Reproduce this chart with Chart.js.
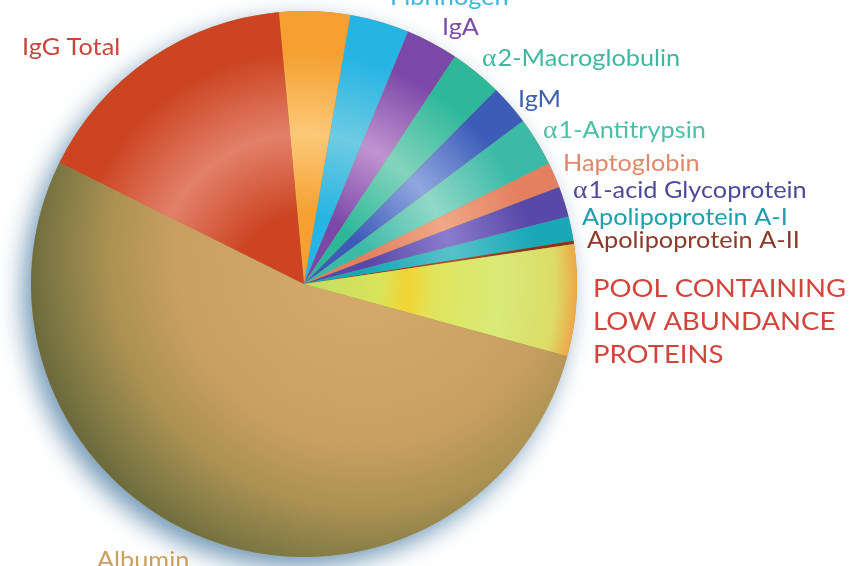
<!DOCTYPE html>
<html>
<head>
<meta charset="utf-8">
<script src="https://cdn.jsdelivr.net/npm/chart.js@4/dist/chart.umd.min.js"></script>
<style>
  html, body { margin: 0; padding: 0; background: #ffffff; }
  #wrap { width: 850px; height: 566px; position: relative; }
</style>
</head>
<body>
<div id="wrap"><canvas id="c" width="850" height="566"></canvas></div>
<script>
// ---- data (clockwise from top) ----
const categories = ['Transferrin', 'Fibrinogen', 'IgA', 'α2-Macroglobulin', 'IgM', 'α1-Antitrypsin',
  'Haptoglobin', 'α1-acid Glycoprotein', 'Apolipoprotein A-I', 'Apolipoprotein A-II',
  'POOL CONTAINING|LOW ABUNDANCE|PROTEINS', 'Albumin', 'IgG Total'];
const shares = [4.2, 3.5, 3.1, 3.1, 2.4, 2.9, 1.5, 1.8, 1.45, 0.2, 6.6, 53.1, 16.2];
const shownLabels = [false, true, true, true, true, true, true, true, true, true, true, true, true];

// ---- styles ----
const baseColors  = ['#f5a030', '#25b4e4', '#7a48a8', '#2eb89a', '#3c5cb8', '#3cbaa8',
  '#e48060', '#5848a8', '#1aa8b8', '#8a3418', '#cfe062', '#c9a062', '#cc4422'];
const lightColors = ['#fcc878', '#6ecbe2', '#c094d0', '#84d4bc', '#90a8e0', '#92d8c8',
  '#f0a888', '#8a7ccc', '#56c2ca', '#a85030', '#e4ea70', '#d4aa68', '#e2806a'];
const labelColors = ['#f0a040', '#3cb6da', '#7b4ea8', '#3fb8a0', '#3e60b2', '#4cbfa8',
  '#e0896a', '#4e4a9a', '#1f9fae', '#8b3a2a', '#d2453c', '#c9a060', '#c8453c'];
const labelLayout = [null, [390, 5], [442, 35], [482, 66], [518, 107], [543, 138],
  [563, 171], [573, 198], [582, 225], [587, 248], [593, 297], [97, 568], [22, 55]];
const labelSizes = [23, 23, 23, 23, 23, 23, 23, 23, 23, 23, 25, 23, 23];
const TEXT_STRETCH = 1.1;

function geom(chart) {
  const a = chart.chartArea;
  return { x: (a.left + a.right) / 2, y: (a.top + a.bottom) / 2,
           r: Math.min(a.right - a.left, a.bottom - a.top) / 2 };
}

function sliceFill(context) {
  const chart = context.chart;
  const i = context.dataIndex;
  if (!chart.chartArea) return baseColors[i];
  const g = geom(chart);
  const ctx = chart.ctx;
  if (i === 11) { // Albumin: lit from upper right, dark olive rim
    const gr = ctx.createRadialGradient(g.x + 60, g.y - 30, 0, g.x + 60, g.y - 30, g.r * 1.25);
    gr.addColorStop(0, '#d6ac6a');
    gr.addColorStop(0.55, '#c9a062');
    gr.addColorStop(0.75, '#ab9152');
    gr.addColorStop(0.9, '#827b46');
    gr.addColorStop(1, '#6a683a');
    return gr;
  }
  if (i === 10) { // pool
    const gr = ctx.createRadialGradient(g.x, g.y, 0, g.x, g.y, g.r);
    gr.addColorStop(0, '#c4dc64');
    gr.addColorStop(0.28, '#d8e45a');
    gr.addColorStop(0.38, '#f2d434');
    gr.addColorStop(0.48, '#e0e45c');
    gr.addColorStop(0.72, '#d8ea78');
    gr.addColorStop(0.92, '#dcdc68');
    gr.addColorStop(1, '#eea848');
    return gr;
  }
  const gr = ctx.createRadialGradient(g.x, g.y, 0, g.x, g.y, g.r);
  gr.addColorStop(0, baseColors[i]);
  gr.addColorStop(0.25, baseColors[i]);
  gr.addColorStop(0.55, lightColors[i]);
  gr.addColorStop(0.85, baseColors[i]);
  gr.addColorStop(1, baseColors[i]);
  return gr;
}

const shadowPlugin = {
  id: 'pieShadow',
  beforeDatasetsDraw(chart) {
    const arc = chart.getDatasetMeta(0).data[0];
    if (!arc) return;
    const ctx = chart.ctx;
    ctx.save();
    ctx.shadowColor = 'rgba(80,128,165,0.8)';
    ctx.shadowBlur = 24;
    ctx.shadowOffsetX = -8;
    ctx.shadowOffsetY = 10;
    ctx.beginPath();
    ctx.arc(arc.x, arc.y, arc.outerRadius, 0, Math.PI * 2);
    ctx.fillStyle = '#a89050';
    ctx.fill();
    ctx.restore();
  }
};

function drawRich(ctx, text, x, y, color, size) {
  ctx.save();
  ctx.translate(x, y);
  ctx.scale(TEXT_STRETCH, 1);
  ctx.fillStyle = color;
  ctx.textBaseline = 'alphabetic';
  ctx.textAlign = 'left';
  let cx = 0;
  if (text.startsWith('α')) {
    ctx.font = (size + 2) + 'px "Liberation Serif", "DejaVu Serif", serif';
    ctx.fillText('α', cx, 0);
    cx += ctx.measureText('α').width + 1;
    text = text.slice(1);
  }
  ctx.font = size + 'px Lato, "Open Sans", sans-serif';
  ctx.fillText(text, cx, 0);
  ctx.restore();
}

const labelPlugin = {
  id: 'outerLabels',
  afterDatasetsDraw(chart) {
    const ctx = chart.ctx;
    categories.forEach((name, i) => {
      if (!shownLabels[i] || !labelLayout[i]) return;
      const [lx, ly] = labelLayout[i];
      name.split('|').forEach((line, k) => {
        drawRich(ctx, line, lx, ly + k * 33, labelColors[i], labelSizes[i]);
      });
    });
  }
};

new Chart(document.getElementById('c'), {
  type: 'pie',
  data: {
    labels: categories,
    datasets: [{
      data: shares,
      backgroundColor: sliceFill,
      borderWidth: 0,
      hoverOffset: 0
    }]
  },
  options: {
    responsive: false,
    animation: false,
    rotation: -5.3,
    layout: { padding: { left: 31, right: 273, top: 11, bottom: 9 } },
    plugins: {
      legend: { display: false },
      tooltip: { enabled: false },
      title: { display: false }
    }
  },
  plugins: [shadowPlugin, labelPlugin]
});
</script>
</body>
</html>
